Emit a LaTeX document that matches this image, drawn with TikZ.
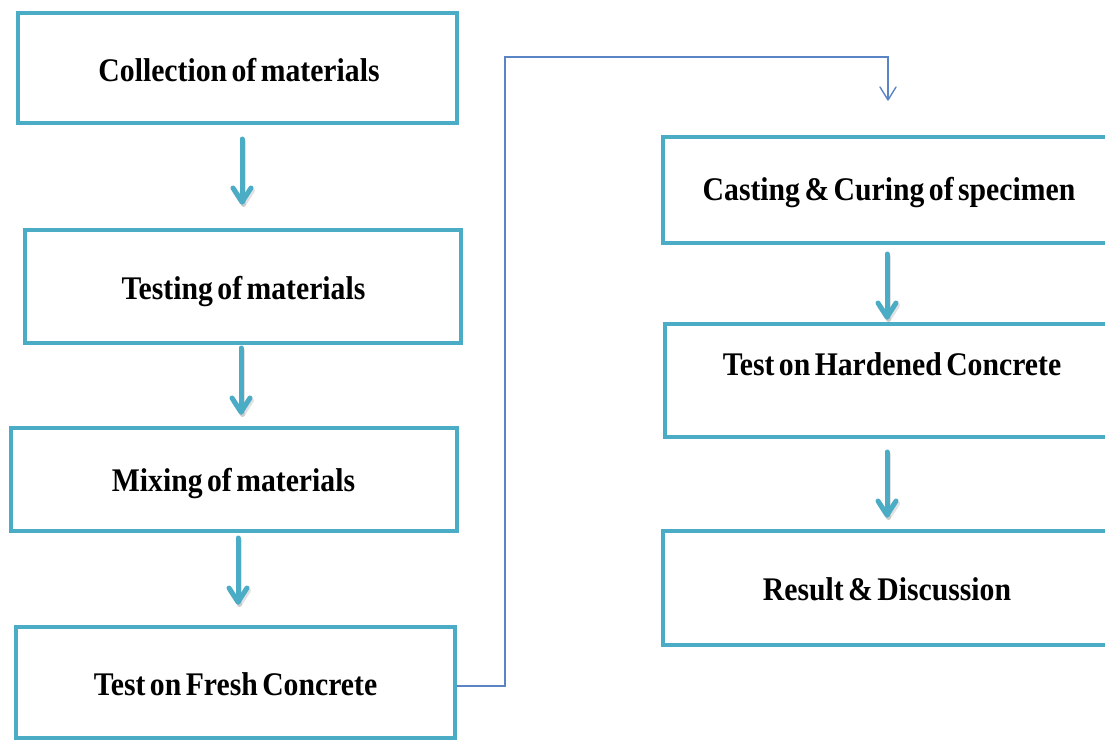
\documentclass[tikz,border=0pt]{standalone}
\usepackage{fontspec}
\setmainfont{Liberation Serif}[FakeStretch=0.9,WordSpace=0.6]
\definecolor{boxteal}{HTML}{4BACC6}
\definecolor{connblue}{HTML}{5B84C4}
\tikzset{
  flowbox/.style={draw=boxteal, line width=4pt, rectangle, inner sep=0pt},
  flowtext/.style={anchor=base, inner sep=0pt, font=\fontsize{33}{36}\selectfont\bfseries},
  flowarrow/.style={draw=boxteal, line width=5pt, line cap=round, line join=round},
  arrowshadow/.style={draw=black!45, opacity=0.25, line width=5pt, line cap=round, line join=round},
  elbow/.style={draw=connblue, line width=1.4pt, line join=miter},
  elbowhead/.style={draw=connblue, line width=1.4pt, line cap=round, line join=round}
}
\begin{document}
\begin{tikzpicture}[x=1pt,y=-1pt]
\useasboundingbox (0,0) rectangle (1105,740);
\clip (0,0) rectangle (1105,740);
% boxes
\node[flowbox, minimum width=439pt, minimum height=110pt] (b1) at (237.5,68) {};
\node[flowbox, minimum width=436pt, minimum height=113pt] (b2) at (243,286.5) {};
\node[flowbox, minimum width=446pt, minimum height=103pt] (b3) at (234,479.5) {};
\node[flowbox, minimum width=439pt, minimum height=111pt] (b4) at (235.5,682.5) {};
\node[flowbox, minimum width=452pt, minimum height=106pt] (b5) at (889,190) {};
\node[flowbox, minimum width=450pt, minimum height=113pt] (b6) at (890,380.5) {};
\node[flowbox, minimum width=452pt, minimum height=114pt] (b7) at (889,588) {};
% texts
\node[flowtext] (t1) at (239,81) {Collection of materials};
\node[flowtext] (t2) at (243.5,299) {Testing of materials};
\node[flowtext] (t3) at (233.5,491) {Mixing of materials};
\node[flowtext] (t4) at (235.5,695) {Test on Fresh Concrete};
\node[flowtext] (t5) at (889,200) {Casting \& Curing of specimen};
\node[flowtext] (t6) at (892,375) {Test on Hardened Concrete};
\node[flowtext] (t7) at (887,600) {Result \& Discussion};
% arrow endpoints
\coordinate (a1s) at (242,139); \coordinate (a1e) at (242,202);
\coordinate (a2s) at (241,348); \coordinate (a2e) at (241,412);
\coordinate (a3s) at (238,538); \coordinate (a3e) at (238,602);
\coordinate (a4s) at (887,254); \coordinate (a4e) at (887,317);
\coordinate (a5s) at (887,452); \coordinate (a5e) at (887,515);
% shadows
\foreach \s/\e in {a1s/a1e,a2s/a2e,a3s/a3e,a4s/a4e,a5s/a5e}{
  \draw[arrowshadow] ([shift={(1.5,2.5)}]\s) -- ([shift={(1.5,2.5)}]\e);
  \draw[arrowshadow] ([shift={(-7.5,-11.5)}]\e) -- ([shift={(1.5,2.5)}]\e) -- ([shift={(10.5,-11.5)}]\e);
}
% arrows
\foreach \s/\e in {a1s/a1e,a2s/a2e,a3s/a3e,a4s/a4e,a5s/a5e}{
  \draw[flowarrow] (\s) -- (\e);
  \draw[flowarrow] ([shift={(-9,-14)}]\e) -- (\e) -- ([shift={(9,-14)}]\e);
}
% elbow connector
\coordinate (ec1) at (505,686);
\coordinate (ec2) at (505,57);
\coordinate (ec3) at (888,57);
\coordinate (elbowend) at (888,100);
\draw[elbow] (b4.east |- ec1) -- (ec1) -- (ec2) -- (ec3) -- (elbowend);
\draw[elbowhead] ([shift={(-8,-13)}]elbowend) -- (elbowend) -- ([shift={(8,-13)}]elbowend);
\end{tikzpicture}
\end{document}
